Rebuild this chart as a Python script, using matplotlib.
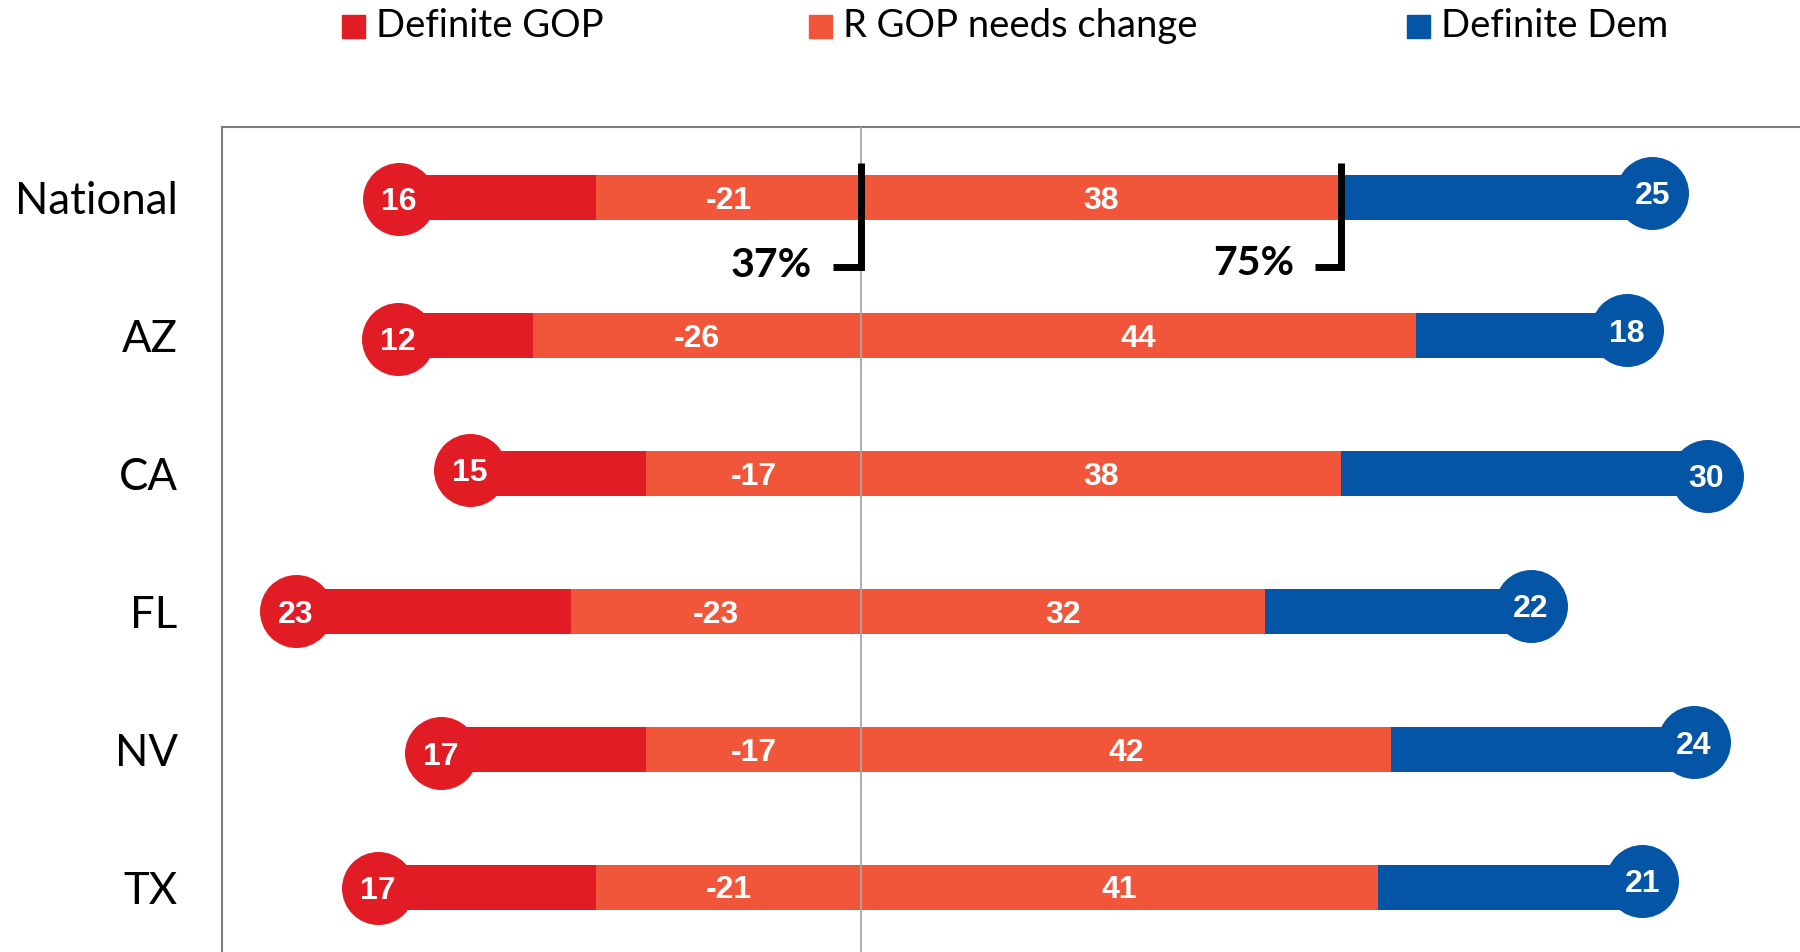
import matplotlib
matplotlib.use("Agg")
import matplotlib.pyplot as plt
from matplotlib.patches import Rectangle
from matplotlib import font_manager as fm

# ---------------- data ----------------
categories = ["National", "AZ", "CA", "FL", "NV", "TX"]
definite_gop = [16, 12, 15, 23, 17, 17]
gop_change_left = [-21, -26, -17, -23, -17, -21]
gop_change_right = [38, 44, 38, 32, 42, 41]
definite_dem = [25, 18, 30, 22, 24, 21]
series_names = ["Definite GOP", "R GOP needs change", "Definite Dem"]

# ---------------- style / layout ----------------
C_RED = "#E21C24"
C_ORANGE = "#F1563A"
C_BLUE = "#0455A5"
LABEL_FONT = ["Lato", "DejaVu Sans"]


def _has_font(family):
    try:
        path = fm.findfont(fm.FontProperties(family=family, weight="bold"),
                           fallback_to_default=False)
        return bool(path)
    except Exception:
        return False


if _has_font("Liberation Sans Narrow"):
    NUM_FONT = ["Liberation Sans Narrow", "DejaVu Sans"]
    NUM_SIZE = 24
else:
    NUM_FONT = ["Liberation Sans", "DejaVu Sans"]
    NUM_SIZE = 23

W, H = 1800, 952
PX_PER_UNIT = 12.62
ROW_PX = 137.9
ZERO_PX = 861
TOP_PX = 127
LEFT_PX = 222
ROW0_PX = 197.5
BAR_H = 45 / ROW_PX

# small marker nudges (layout only)
marker_inset_gop = [0.4, 1.3, 1.0, 1.2, 0.7, -0.3]
marker_inset_dem = [0.3, 1.3, 1.0, 0.9, 0.0, 0.1]
marker_dy_gop_px = [1, 3.5, -3.5, 0, 4, 0.5]
marker_dy_dem_px = [-5, -5, 2.5, -5.5, -7, -6.5]

fig = plt.figure(figsize=(W / 100, H / 100), dpi=100)
ax = fig.add_axes([LEFT_PX / W, 0, 1 - LEFT_PX / W, 1 - TOP_PX / H])

xmin = (LEFT_PX - ZERO_PX) / PX_PER_UNIT
xmax = (W - ZERO_PX) / PX_PER_UNIT
ytop = (TOP_PX - ROW0_PX) / ROW_PX
ybot = (H - ROW0_PX) / ROW_PX
ax.set_xlim(xmin, xmax)
ax.set_ylim(ybot, ytop)

y = list(range(len(categories)))
gop_neg = [-v for v in definite_gop]

ax.barh(y, gop_change_left, left=0, height=BAR_H, color=C_ORANGE, zorder=2, linewidth=0)
ax.barh(y, gop_neg, left=gop_change_left, height=BAR_H, color=C_RED, zorder=2, linewidth=0)
ax.barh(y, gop_change_right, left=0, height=BAR_H, color=C_ORANGE, zorder=2, linewidth=0)
ax.barh(y, definite_dem, left=gop_change_right, height=BAR_H, color=C_BLUE, zorder=2, linewidth=0)

ax.axvline(0, color="#A6A6A6", lw=1.3, zorder=3)

msize = (73 * 72 / 100) ** 2
gx = [l - g + ins for l, g, ins in zip(gop_change_left, definite_gop, marker_inset_gop)]
gy = [i + d / ROW_PX for i, d in zip(y, marker_dy_gop_px)]
dx = [r + d - ins for r, d, ins in zip(gop_change_right, definite_dem, marker_inset_dem)]
dy = [i + d / ROW_PX for i, d in zip(y, marker_dy_dem_px)]
ax.scatter(gx, gy, s=msize, color=C_RED, zorder=4, linewidths=0)
ax.scatter(dx, dy, s=msize, color=C_BLUE, zorder=4, linewidths=0)

num_kw = dict(color="white", fontsize=NUM_SIZE, fontweight="bold", family=NUM_FONT,
              ha="center", va="center_baseline", zorder=5)
for i in y:
    ax.text(gx[i], gy[i], str(definite_gop[i]), **num_kw)
    ax.text(dx[i], dy[i], str(definite_dem[i]), **num_kw)
    ax.text(gop_change_left[i] / 2, i, str(gop_change_left[i]), **num_kw)
    ax.text(gop_change_right[i] / 2, i, str(gop_change_right[i]), **num_kw)

# brackets on the National row
left_share = definite_gop[0] - gop_change_left[0]
right_share = left_share + gop_change_right[0]
b_top = (163 - ROW0_PX) / ROW_PX
b_bot = (266.5 - ROW0_PX) / ROW_PX
for xb, share, arm, txt_dx, txt_base in [
    (0, left_share, 2.2, 3.9, (277 - ROW0_PX) / ROW_PX),
    (gop_change_right[0], right_share, 2.06, 3.65, (275 - ROW0_PX) / ROW_PX),
]:
    ax.plot([xb, xb, xb - arm], [b_top, b_bot, b_bot], color="black", lw=5,
            solid_joinstyle="miter", solid_capstyle="butt", zorder=6)
    ax.text(xb - txt_dx, txt_base, f"{share}%", ha="right", va="baseline",
            fontsize=29.5, fontweight="bold", family=LABEL_FONT, color="black", zorder=6)

# axes styling
ax.set_yticks(y)
ax.set_yticklabels(categories, family=LABEL_FONT, fontsize=31.5)
ax.tick_params(axis="y", length=0, pad=32)
ax.set_xticks([])
for s in ["right", "bottom"]:
    ax.spines[s].set_visible(False)
for s in ["left", "top"]:
    ax.spines[s].set_color("#7F7F7F")
    ax.spines[s].set_linewidth(1.5)

# legend (manual, figure coords)
leg_sq = [342, 809, 1407]
leg_colors = [C_RED, C_ORANGE, C_BLUE]
for xs, c, name in zip(leg_sq, leg_colors, series_names):
    fig.patches.append(Rectangle((xs / W, 1 - 38 / H), 23 / W, 23 / H,
                                 transform=fig.transFigure, color=c))
    fig.text((xs + 34) / W, 1 - 37 / H, name, family=LABEL_FONT, fontsize=27.5,
             ha="left", va="baseline", color="black")

fig.savefig("out.png", dpi=100)
